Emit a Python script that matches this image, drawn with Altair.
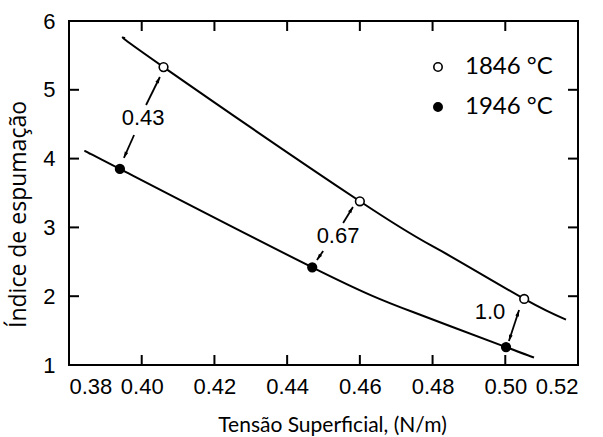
import math
import altair as alt
import pandas as pd

# ---------------- data ----------------
upper_curve_x = [0.3954, 0.406, 0.460, 0.4826, 0.5052, 0.5167]
upper_curve_y = [5.75, 5.33, 3.38, 2.65, 1.96, 1.66]
lower_curve_x = [0.3858, 0.394, 0.4469, 0.4746, 0.5002, 0.5079]
lower_curve_y = [4.07, 3.85, 2.42, 1.77, 1.26, 1.11]

series_names = ["1846 °C", "1946 °C"]
open_x = [0.406, 0.460, 0.5052]
open_y = [5.33, 3.38, 1.96]
filled_x = [0.394, 0.4469, 0.5002]
filled_y = [3.85, 2.42, 1.26]

ratio_labels = ["0.43", "0.67", "1.0"]
ratio_x = [0.4004, 0.4540, 0.4958]
ratio_y = [4.59, 2.875, 1.77]

arrow_x1 = [0.4012, 0.3979, 0.4554, 0.4499, 0.5010]
arrow_y1 = [4.779, 4.343, 3.064, 2.657, 1.349]
arrow_x2 = [0.4050, 0.3951, 0.4581, 0.4482, 0.5038]
arrow_y2 = [5.186, 4.009, 3.297, 2.526, 1.799]
arrow_both = [False, False, False, False, True]

x_ticks = [0.38, 0.40, 0.42, 0.44, 0.46, 0.48, 0.50, 0.52]
y_ticks = [1, 2, 3, 4, 5, 6]
x_inner_ticks = [0.40, 0.42, 0.44, 0.46, 0.48, 0.50]
y_inner_ticks = [2, 3, 4, 5]

X_DOMAIN = [0.38, 0.52]
Y_DOMAIN = [1, 6]
W, H = 509, 344

# ---------------- tables ----------------
curve_rows = []
for name, xs_, ys_ in [(series_names[0], upper_curve_x, upper_curve_y),
                       (series_names[1], lower_curve_x, lower_curve_y)]:
    for i, (a, b) in enumerate(zip(xs_, ys_)):
        curve_rows.append({"series": name, "x": a, "y": b, "o": i})
curve_df = pd.DataFrame(curve_rows)

pt_df = pd.DataFrame(
    [{"series": series_names[0], "x": a, "y": b} for a, b in zip(open_x, open_y)]
    + [{"series": series_names[1], "x": a, "y": b} for a, b in zip(filled_x, filled_y)]
)

lab_df = pd.DataFrame({"x": ratio_x, "y": ratio_y, "t": ratio_labels})

seg_df = pd.DataFrame({"x": arrow_x1, "y": arrow_y1, "x2": arrow_x2, "y2": arrow_y2})


def head_angle(xa, ya, xb, yb):
    dx = (xb - xa) / (X_DOMAIN[1] - X_DOMAIN[0]) * W
    dy = -(yb - ya) / (Y_DOMAIN[1] - Y_DOMAIN[0]) * H
    return math.degrees(math.atan2(dx, -dy)) % 360


head_rows = []
for xa, ya, xb, yb, both in zip(arrow_x1, arrow_y1, arrow_x2, arrow_y2, arrow_both):
    head_rows.append({"x": xb, "y": yb, "a": head_angle(xa, ya, xb, yb)})
    if both:
        head_rows.append({"x": xa, "y": ya, "a": head_angle(xb, yb, xa, ya)})
head_df = pd.DataFrame(head_rows)

xt_df = pd.DataFrame({"x": x_inner_ticks})
yt_df = pd.DataFrame({"y": y_inner_ticks})

# ---------------- chart ----------------
xs = alt.Scale(domain=X_DOMAIN, nice=False, zero=False)
ys = alt.Scale(domain=Y_DOMAIN, nice=False, zero=False)

TICK_FONT = "Liberation Sans"
TITLE_FONT = "Lato"

x_axis = alt.Axis(
    values=x_ticks, format=".2f", title="Tensão Superficial, (N/m)",
    domain=False, ticks=False, tickSize=0, grid=False,
    labelFont=TICK_FONT, labelFontSize=22, labelColor="black", labelPadding=11,
    titleFont=TITLE_FONT, titleFontSize=21, titleFontWeight="normal", titleColor="black",
    titleX=263, titleY=66, titleBaseline="alphabetic", titleAlign="center",
)
y_axis = alt.Axis(
    values=y_ticks, format="d", title="Índice de espumação",
    domain=False, ticks=False, tickSize=0, grid=False,
    labelFont=TICK_FONT, labelFontSize=22, labelColor="black", labelPadding=14,
    titleFont="Open Sans", titleFontSize=23, titleFontWeight="normal", titleColor="black",
    titleAngle=270, titleX=-44, titleY=193, titleBaseline="alphabetic", titleAlign="center",
)


def X():
    return alt.X("x:Q", scale=xs, axis=x_axis)


def Y():
    return alt.Y("y:Q", scale=ys, axis=y_axis)


lines = alt.Chart(curve_df).mark_line(
    color="black", strokeWidth=2, interpolate="natural"
).encode(x=X(), y=Y(), detail="series:N", order="o:Q")

points = alt.Chart(pt_df).mark_point(
    shape="circle", filled=True, stroke="black", strokeWidth=1.6, size=75, opacity=1
).encode(
    x=X(), y=Y(),
    fill=alt.Fill(
        "series:N",
        scale=alt.Scale(domain=series_names, range=["white", "black"]),
        legend=alt.Legend(
            title=None, orient="none", legendX=357, legendY=34,
            labelFont=TITLE_FONT, labelFontSize=24, labelColor="black",
            labelOffset=15, rowPadding=16, padding=0,
            symbolType="circle", symbolSize=70, symbolStrokeColor="black",
            symbolStrokeWidth=1.6,
        ),
    ),
)

labels = alt.Chart(lab_df).mark_text(
    font=TICK_FONT, fontSize=22, color="black", align="center", baseline="middle"
).encode(x=X(), y=Y(), text="t:N")

segs = alt.Chart(seg_df).mark_rule(color="black", strokeWidth=1.8).encode(
    x=X(), y=Y(), x2="x2:Q", y2="y2:Q"
)

heads = alt.Chart(head_df).mark_point(
    shape="M0,0L-0.6,2L0.6,2Z", filled=True, color="black", size=40, opacity=1
).encode(x=X(), y=Y(), angle=alt.Angle("a:Q", scale=None))

tick_b = alt.Chart(xt_df).mark_rule(color="black", strokeWidth=2).encode(
    x=X(), y=alt.value(H), y2=alt.value(H - 10)
)
tick_t = alt.Chart(xt_df).mark_rule(color="black", strokeWidth=2).encode(
    x=X(), y=alt.value(0), y2=alt.value(10)
)
tick_l = alt.Chart(yt_df).mark_rule(color="black", strokeWidth=2).encode(
    y=Y(), x=alt.value(0), x2=alt.value(10)
)
tick_r = alt.Chart(yt_df).mark_rule(color="black", strokeWidth=2).encode(
    y=Y(), x=alt.value(W), x2=alt.value(W - 10)
)

chart = alt.layer(
    lines, segs, heads, labels, tick_b, tick_t, tick_l, tick_r, points
).properties(
    width=W, height=H,
    autosize=alt.AutoSizeParams(type="none"),
    padding={"left": 69, "top": 21, "right": 25, "bottom": 72},
    background="white",
).configure_view(
    stroke="black", strokeWidth=2
)

chart.save("out.html", embed_options={"renderer": "svg", "actions": False})
